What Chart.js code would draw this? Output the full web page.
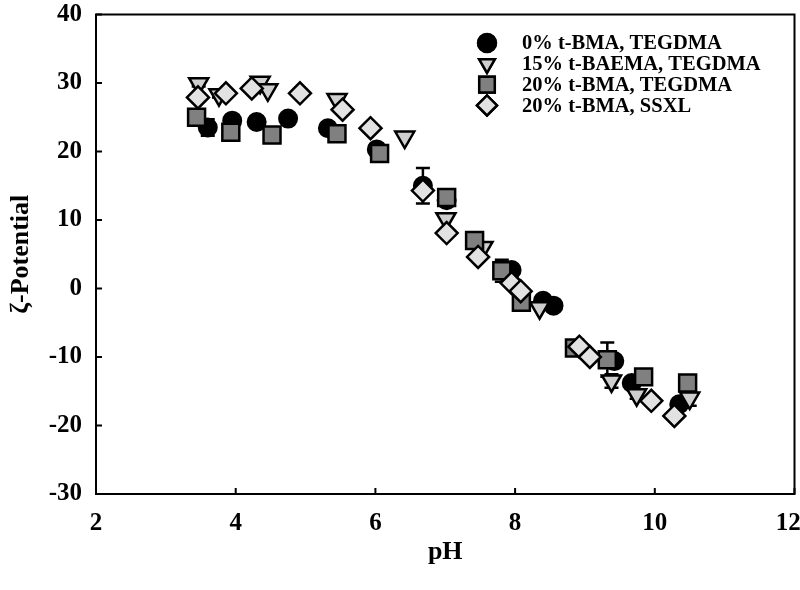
<!DOCTYPE html>
<html>
<head>
<meta charset="utf-8">
<script src="https://cdn.jsdelivr.net/npm/chart.js@4/dist/chart.umd.min.js"></script>
<style>
  html, body { margin: 0; padding: 0; background: #fff; overflow: hidden; }
  #wrap { width: 809px; height: 590px; }
</style>
</head>
<body>
<div id="wrap"><canvas id="chart"></canvas></div>
<script>
"use strict";
// pH vs zeta potential, four formulations
const xTicks = [2, 4, 6, 8, 10, 12];
const yTicks = [-30, -20, -10, 0, 10, 20, 30, 40];

const labels = [
  "0% t-BMA, TEGDMA",
  "15% t-BAEMA, TEGDMA",
  "20% t-BMA, TEGDMA",
  "20% t-BMA, SSXL",
];

const circleX = [3.6, 3.95, 4.3, 4.75, 5.32, 6.02, 6.68, 7.02, 7.95, 8.4, 8.55, 9.42, 9.67, 10.35];
const circleY = [23.5, 24.5, 24.3, 24.8, 23.4, 20.3, 15.0, 12.9, 2.7, -1.8, -2.5, -10.6, -13.8, -16.9];
const circleErr = [1.2, 0, 0, 0, 0, 0, 2.6, 0, 0, 0, 0, 0, 0, 0];

const triX = [3.47, 3.76, 4.35, 4.46, 5.45, 6.42, 7.01, 7.54, 8.35, 9.38, 9.74, 10.5];
const triY = [29.9, 28.3, 30.1, 29.0, 27.6, 22.1, 10.2, 6.0, -2.8, -13.5, -15.5, -16.0];
const triErr = [0.4, 0.4, 0, 0, 0, 0, 0, 0, 0, 1.0, 0.6, 1.1];

const sqX = [3.44, 3.93, 4.52, 5.45, 6.06, 7.02, 7.42, 7.81, 8.09, 8.85, 9.32, 9.84, 10.47];
const sqY = [25.0, 22.8, 22.4, 22.6, 19.7, 13.3, 7.0, 2.6, -2.0, -8.7, -10.4, -12.9, -13.8];
const sqErr = [0, 0, 0, 0, 0, 0, 0, 1.6, 0, 0, 2.5, 0, 0];

const diaX = [3.46, 3.86, 4.23, 4.92, 5.53, 5.93, 6.68, 7.02, 7.47, 7.95, 8.08, 8.92, 9.07, 9.95, 10.28];
const diaY = [27.9, 28.5, 29.2, 28.5, 26.1, 23.4, 14.3, 8.1, 4.6, 0.8, -0.4, -8.5, -10.0, -16.4, -18.6];

const font = "'Liberation Serif', 'Times New Roman', serif";

function pts(xs, ys) {
  return xs.map((x, i) => ({ x: x, y: ys[i] }));
}

// error bars, frame, inward ticks and legend
const extras = {
  id: "extras",
  beforeDatasetsDraw(chart) {
    const ctx = chart.ctx;
    const xs = chart.scales.x;
    const ys = chart.scales.y;
    ctx.save();
    ctx.strokeStyle = "#000";
    ctx.lineWidth = 2.5;
    chart.data.datasets.forEach((ds) => {
      (ds.err || []).forEach((e, i) => {
        if (!e) return;
        const px = xs.getPixelForValue(ds.data[i].x);
        const top = ys.getPixelForValue(ds.data[i].y + e);
        const bot = ys.getPixelForValue(ds.data[i].y - e);
        ctx.beginPath();
        ctx.moveTo(px, top);
        ctx.lineTo(px, bot);
        ctx.moveTo(px - 7, top);
        ctx.lineTo(px + 7, top);
        ctx.moveTo(px - 7, bot);
        ctx.lineTo(px + 7, bot);
        ctx.stroke();
      });
    });
    ctx.restore();
  },
  afterDraw(chart) {
    const ctx = chart.ctx;
    const a = chart.chartArea;
    const xs = chart.scales.x;
    const ys = chart.scales.y;
    ctx.save();
    ctx.strokeStyle = "#000";
    ctx.lineWidth = 2;
    ctx.strokeRect(a.left, a.top, a.right - a.left, a.bottom - a.top);
    ctx.beginPath();
    xTicks.forEach((v) => {
      const p = xs.getPixelForValue(v);
      ctx.moveTo(p, a.bottom);
      ctx.lineTo(p, a.bottom - 6);
    });
    yTicks.forEach((v) => {
      const p = ys.getPixelForValue(v);
      ctx.moveTo(a.left, p);
      ctx.lineTo(a.left + 6, p);
    });
    ctx.stroke();

    // legend
    ctx.font = "bold 20.5px " + font;
    ctx.textBaseline = "middle";
    chart.data.datasets.forEach((ds, i) => {
      const y = 43 + i * 20.8;
      Chart.helpers.drawPoint(ctx, {
        pointStyle: ds.pointStyle,
        rotation: ds.rotation || 0,
        radius: ds.legendRadius,
        borderWidth: 2.5,
      }, 487, y);
      ctx.fillStyle = ds.backgroundColor;
      ctx.strokeStyle = "#000";
      ctx.lineWidth = 2.5;
      ctx.fill();
      ctx.stroke();
      ctx.fillStyle = "#000";
      ctx.fillText(ds.label, 522, y + 1);
    });
    ctx.restore();
  },
};

const ctx = document.getElementById("chart").getContext("2d");
new Chart(ctx, {
  type: "scatter",
  data: {
    datasets: [
      {
        label: labels[0],
        data: pts(circleX, circleY),
        err: circleErr,
        pointStyle: "circle",
        pointRadius: 9,
        legendRadius: 9,
        backgroundColor: "#000",
        borderColor: "#000",
        borderWidth: 2,
        order: 4,
      },
      {
        label: labels[1],
        data: pts(triX, triY),
        err: triErr,
        pointStyle: "triangle",
        rotation: 180,
        pointRotation: 180,
        pointRadius: 11,
        legendRadius: 9,
        backgroundColor: "#cfcfcf",
        borderColor: "#000",
        borderWidth: 2.5,
        order: 3,
      },
      {
        label: labels[2],
        data: pts(sqX, sqY),
        err: sqErr,
        pointStyle: "rect",
        pointRadius: 12,
        legendRadius: 11,
        backgroundColor: "#808080",
        borderColor: "#000",
        borderWidth: 2.5,
        order: 2,
      },
      {
        label: labels[3],
        data: pts(diaX, diaY),
        pointStyle: "rectRot",
        pointRadius: 11,
        legendRadius: 10,
        backgroundColor: "#e2e2e2",
        borderColor: "#000",
        borderWidth: 2.5,
        order: 1,
      },
    ],
  },
  options: {
    responsive: true,
    maintainAspectRatio: false,
    animation: false,
    layout: { padding: { top: 14, right: 0, left: 0, bottom: 0 } },
    plugins: {
      legend: { display: false },
      tooltip: { enabled: false },
    },
    scales: {
      x: {
        type: "linear",
        min: 2,
        max: 12,
        afterBuildTicks: (s) => { s.ticks = xTicks.map((v) => ({ value: v })); },
        afterFit: (s) => {
          s.height = 96;
          s.paddingLeft = 0;
          s.paddingRight = 0;
        },
        grid: { display: false, drawTicks: false },
        border: { display: false },
        ticks: {
          padding: 15,
          color: "#000",
          font: { family: font, size: 25, weight: "bold" },
          // last label sits against the page edge, nudge it left a little
          callback: (v) => (v === 12 ? "12\u2002" : String(v)),
        },
        title: {
          display: true,
          text: "pH",
          color: "#000",
          padding: { top: 14, bottom: 22 },
          font: { family: font, size: 26, weight: "bold" },
        },
      },
      y: {
        type: "linear",
        min: -30,
        max: 40,
        afterBuildTicks: (s) => { s.ticks = yTicks.map((v) => ({ value: v })); },
        afterFit: (s) => {
          s.width = 96;
          s.paddingTop = 0;
          s.paddingBottom = 0;
        },
        grid: { display: false, drawTicks: false },
        border: { display: false },
        ticks: {
          padding: 14,
          color: "#000",
          font: { family: font, size: 25, weight: "bold" },
        },
        title: {
          display: true,
          text: "ζ-Potential",
          color: "#000",
          padding: { bottom: 0, top: 6 },
          font: { family: font, size: 26, weight: "bold" },
        },
      },
    },
  },
  plugins: [extras],
});
</script>
</body>
</html>
